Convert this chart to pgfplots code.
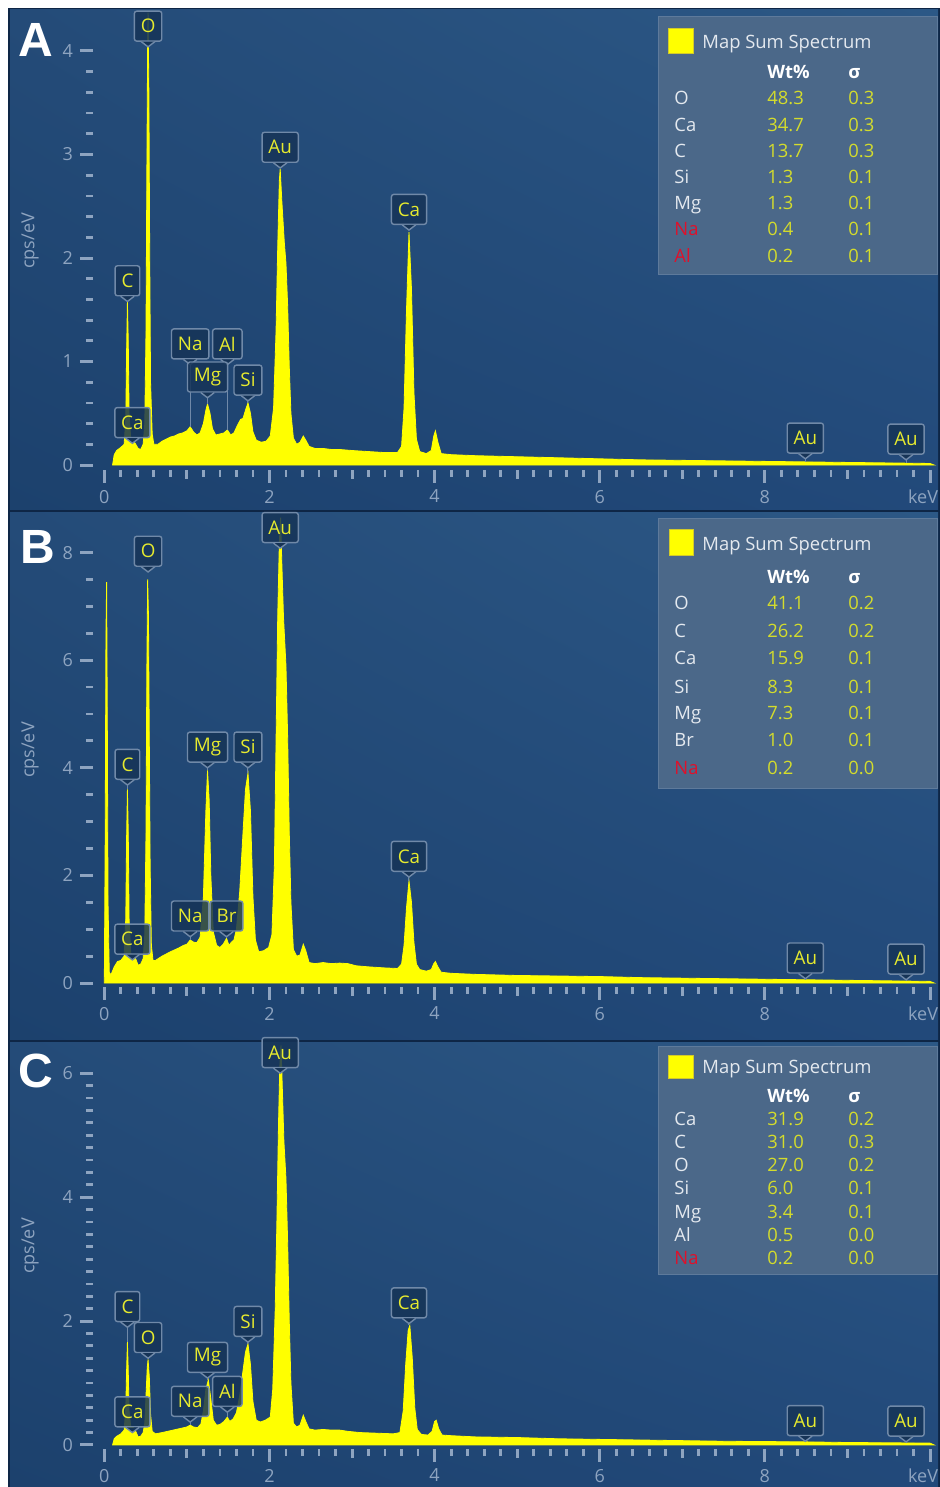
\documentclass[border=0pt]{standalone}
\usepackage{pgfplots}
\pgfplotsset{compat=1.18}
\usetikzlibrary{shadings}
\usepackage{fontspec}
\setmainfont{Open Sans}
\newfontfamily\letfont{Liberation Sans}

\definecolor{bgdark}{HTML}{0E2646}
\definecolor{bgUL}{HTML}{244B78}
\definecolor{bgUR}{HTML}{2C5886}
\definecolor{bgLL}{HTML}{1C416D}
\definecolor{bgLR}{HTML}{22497A}
\definecolor{lblfill}{HTML}{163457}
\definecolor{lblborder}{HTML}{7089A8}
\definecolor{lbltext}{HTML}{E6EA2E}
\definecolor{tickcol}{HTML}{8EA4C0}
\definecolor{specyellow}{HTML}{FFFF00}
\definecolor{legfill}{HTML}{4B6889}
\definecolor{legborder}{HTML}{5E7A9B}
\definecolor{legtext}{HTML}{E4E9EF}
\definecolor{legval}{HTML}{D4DC2C}
\definecolor{legred}{HTML}{E0102A}

\tikzset{
  lbl/.style={draw=lblborder, fill=lblfill, fill opacity=0.85, text opacity=1, line width=0.7pt,
    rounded corners=1.2pt, text=lbltext, font=\fontsize{9.4}{10}\selectfont,
    inner xsep=3.2pt, inner ysep=0pt, minimum height=15pt, minimum width=12pt},
  lbltri/.style={fill=lblfill, draw=lblborder, line width=0.7pt},
  lblline/.style={draw=lblborder, line width=0.5pt},
  legtxt/.style={font=\fontsize{9.2}{11}\selectfont, inner sep=0pt, anchor=base west},
  spec/.style={draw=specyellow, fill=specyellow, line width=0.4pt, mark=none},
}

% element label: x, tip y, target y, text
\newcommand{\elab}[4]{%
  \draw[lblline] (axis cs:#1,#2) -- (axis cs:#1,#3);
  \node[lbl, anchor=south] at ([yshift=2.5pt]axis cs:#1,#2) {#4};
  \filldraw[lbltri] ([xshift=-3.4pt,yshift=2.6pt]axis cs:#1,#2) -- (axis cs:#1,#2) -- ([xshift=3.4pt,yshift=2.6pt]axis cs:#1,#2);
}
% legend row: baseline Y, element, value, sigma, element colour
\newcommand{\legrow}[5]{%
  \node[legtxt, text=#5] at (674,#1) {#2};
  \node[legtxt, text=legval] at (767,#1) {#3};
  \node[legtxt, text=legval] at (848,#1) {#4};
}

\pgfplotsset{
  edsaxis/.style={
    scale only axis, width=423pt, anchor=south west,
    xmin=-0.137, xmax=10.109,
    axis x line*=bottom, axis y line*=left,
    axis line style={draw=none},
    tick align=outside,
    xtick={0,2,4,6,8,10}, xticklabels={0,2,4,6,8,\makebox[8pt][r]{keV}},
    minor x tick num=9,
    extra x ticks={1,3,5,7,9}, extra x tick labels={},
    extra x tick style={major tick length=4.5pt},
    major tick length=6.5pt, minor tick length=3.5pt,
    tick style={draw=tickcol, line width=1.5pt},
    minor tick style={line width=1.4pt},
    tick label style={text=tickcol, font=\fontsize{9}{10}\selectfont},
    /pgf/number format/assume math mode=true,
    clip=false,
  }
}

\begin{document}
\begin{tikzpicture}[x=0.5pt,y=0.5pt]
\useasboundingbox (0,0) rectangle (940,1487);
\fill[white] (0,0) rectangle (940,1487);
\fill[bgdark] (8,0) rectangle (940,1479);
\shade[upper left=bgUL, upper right=bgUR, lower left=bgLL, lower right=bgLR] (10,977) rectangle (938,1477);
\shade[upper left=bgUL, upper right=bgUR, lower left=bgLL, lower right=bgLR] (10,447) rectangle (938,974);
\shade[upper left=bgUL, upper right=bgUR, lower left=bgLL, lower right=bgLR] (10,0) rectangle (938,444);

% ---------------- Panel A ----------------
\begin{axis}[edsaxis, at={(46.5pt,508.5pt)}, height=229pt,
  ymin=-0.048, ymax=4.377, ytick={0,1,2,3,4}, minor y tick num=4]
\addplot[spec] coordinates {
(0.10,0) (0.12,0.10) (0.15,0.14) (0.20,0.17) (0.24,0.20) (0.26,0.45) (0.27,1.1) (0.28,1.58)
(0.29,1.2) (0.30,0.5) (0.32,0.26) (0.35,0.24) (0.38,0.20) (0.41,0.16) (0.44,0.15) (0.47,0.20)
(0.49,0.40) (0.505,1.3) (0.515,2.8) (0.525,4.1) (0.53,4.37) (0.54,3.6) (0.55,2.0) (0.56,0.8)
(0.58,0.30) (0.60,0.20) (0.65,0.20) (0.70,0.23) (0.75,0.25) (0.80,0.27) (0.85,0.28) (0.90,0.30)
(0.95,0.31) (1.00,0.33) (1.04,0.37) (1.08,0.32) (1.12,0.29) (1.16,0.31) (1.20,0.40) (1.23,0.53)
(1.25,0.59) (1.28,0.50) (1.31,0.35) (1.35,0.29) (1.40,0.30) (1.45,0.31) (1.49,0.34) (1.53,0.29)
(1.57,0.31) (1.61,0.38) (1.65,0.44) (1.68,0.45) (1.71,0.53) (1.74,0.60) (1.77,0.50) (1.80,0.32)
(1.84,0.24) (1.90,0.22) (1.96,0.23) (2.01,0.28) (2.05,0.55) (2.08,1.3) (2.10,2.1) (2.12,2.75)
(2.13,2.86) (2.15,2.55) (2.18,2.15) (2.20,1.95) (2.22,1.55) (2.24,0.95) (2.26,0.50) (2.29,0.26)
(2.33,0.20) (2.37,0.22) (2.41,0.28) (2.44,0.24) (2.48,0.18) (2.55,0.16) (2.65,0.16) (2.75,0.15)
(2.85,0.15) (3.00,0.14) (3.20,0.13) (3.40,0.12) (3.55,0.12) (3.60,0.18) (3.63,0.55) (3.66,1.5)
(3.69,2.25) (3.72,1.7) (3.75,0.7) (3.78,0.25) (3.82,0.13) (3.90,0.11) (3.96,0.14) (3.99,0.28)
(4.01,0.33) (4.04,0.22) (4.08,0.11) (4.20,0.10) (4.50,0.09) (5.00,0.08) (5.50,0.07) (6.00,0.06)
(6.50,0.05) (7.00,0.045) (7.50,0.04) (8.00,0.035) (8.50,0.03) (9.00,0.025) (9.50,0.02) (10.00,0.015) (10.05,0)
} \closedcycle;
\elab{0.53}{4.04}{4.04}{O}
\elab{0.28}{1.58}{1.58}{C}
\elab{2.13}{2.87}{2.87}{Au}
\elab{3.69}{2.27}{2.27}{Ca}
\elab{1.04}{0.97}{0.37}{Na}
\elab{1.49}{0.97}{0.34}{Al}
\elab{1.25}{0.65}{0.59}{Mg}
\elab{1.74}{0.62}{0.60}{Si}
\elab{0.34}{0.21}{0.21}{Ca}
\elab{8.49}{0.06}{0.03}{Au}
\elab{9.71}{0.05}{0.02}{Au}
\end{axis}

% ---------------- Panel B ----------------
\begin{axis}[edsaxis, at={(46.5pt,250pt)}, height=236pt,
  ymin=-0.074, ymax=8.699, ytick={0,2,4,6,8}, minor y tick num=3]
\addplot[spec] coordinates {
(0.00,0) (0.01,2.5) (0.02,6.5) (0.028,7.45) (0.036,5.0) (0.045,1.5) (0.06,0.2) (0.08,0.15)
(0.12,0.30) (0.16,0.40) (0.20,0.42) (0.24,0.50) (0.26,1.2) (0.27,2.7) (0.28,3.6) (0.29,2.8)
(0.30,1.2) (0.32,0.55) (0.35,0.52) (0.38,0.45) (0.41,0.33) (0.44,0.35) (0.47,0.45) (0.49,0.9)
(0.505,2.8) (0.515,5.8) (0.525,7.5) (0.535,6.8) (0.545,4.5) (0.555,2.2) (0.57,0.7) (0.59,0.42)
(0.62,0.42) (0.70,0.50) (0.80,0.58) (0.90,0.65) (0.96,0.70) (1.00,0.72) (1.04,0.80) (1.08,0.76)
(1.12,0.75) (1.16,0.85) (1.20,1.6) (1.23,3.2) (1.25,3.95) (1.27,3.4) (1.29,2.0) (1.32,0.95)
(1.36,0.70) (1.40,0.66) (1.44,0.72) (1.48,0.83) (1.51,0.70) (1.54,0.76) (1.57,0.80) (1.60,1.0)
(1.64,1.7) (1.68,2.8) (1.71,3.6) (1.74,3.9) (1.77,3.2) (1.80,1.6) (1.83,0.8) (1.87,0.58)
(1.93,0.60) (1.99,0.66) (2.03,0.90) (2.06,2.2) (2.08,4.5) (2.10,6.8) (2.12,8.2) (2.135,8.65)
(2.15,7.8) (2.17,6.8) (2.20,5.9) (2.22,4.6) (2.24,2.8) (2.26,1.5) (2.29,0.62) (2.33,0.50)
(2.37,0.52) (2.41,0.72) (2.44,0.60) (2.48,0.38) (2.55,0.36) (2.65,0.38) (2.75,0.36) (2.85,0.37)
(2.95,0.36) (3.05,0.32) (3.20,0.30) (3.40,0.28) (3.55,0.27) (3.60,0.35) (3.63,0.7) (3.66,1.4)
(3.69,1.9) (3.72,1.5) (3.75,0.75) (3.78,0.35) (3.82,0.25) (3.90,0.22) (3.96,0.25) (3.99,0.36)
(4.01,0.40) (4.04,0.30) (4.08,0.20) (4.20,0.18) (4.50,0.16) (5.00,0.14) (5.50,0.13) (6.00,0.12)
(6.50,0.10) (7.00,0.09) (7.50,0.08) (8.00,0.07) (8.50,0.06) (9.00,0.05) (9.50,0.04) (10.00,0.03) (10.05,0)
} \closedcycle;
\elab{0.53}{7.64}{7.64}{O}
\elab{2.13}{8.08}{8.08}{Au}
\elab{0.28}{3.68}{3.60}{C}
\elab{1.25}{4.00}{3.95}{Mg}
\elab{1.74}{4.00}{3.90}{Si}
\elab{3.69}{1.97}{1.90}{Ca}
\elab{1.04}{0.86}{0.80}{Na}
\elab{1.48}{0.86}{0.83}{Br}
\elab{0.34}{0.43}{0.43}{Ca}
\elab{8.49}{0.08}{0.06}{Au}
\elab{9.71}{0.06}{0.04}{Au}
\end{axis}

% ---------------- Panel C ----------------
\begin{axis}[edsaxis, at={(46.5pt,19pt)}, height=203pt,
  ymin=-0.065, ymax=6.489, ytick={0,2,4,6}, minor y tick num=9]
\addplot[spec] coordinates {
(0.10,0) (0.12,0.10) (0.15,0.14) (0.20,0.18) (0.24,0.24) (0.26,0.6) (0.27,1.2) (0.28,1.66)
(0.29,1.2) (0.30,0.55) (0.32,0.30) (0.35,0.28) (0.38,0.22) (0.41,0.13) (0.44,0.14) (0.47,0.20)
(0.49,0.35) (0.505,0.8) (0.52,1.25) (0.53,1.38) (0.545,1.1) (0.56,0.5) (0.58,0.22) (0.62,0.18)
(0.70,0.20) (0.80,0.23) (0.90,0.26) (1.00,0.29) (1.04,0.32) (1.08,0.29) (1.13,0.28) (1.17,0.34)
(1.20,0.55) (1.23,0.90) (1.26,1.05) (1.29,0.75) (1.32,0.40) (1.36,0.32) (1.40,0.33) (1.45,0.38)
(1.49,0.45) (1.52,0.38) (1.56,0.42) (1.60,0.52) (1.64,0.80) (1.68,1.2) (1.71,1.5) (1.74,1.63)
(1.77,1.3) (1.80,0.70) (1.84,0.40) (1.89,0.37) (1.95,0.40) (2.01,0.45) (2.04,0.90) (2.07,2.2)
(2.09,3.6) (2.11,5.2) (2.125,6.1) (2.14,6.45) (2.155,5.8) (2.175,4.9) (2.20,4.3) (2.22,3.3)
(2.24,2.0) (2.26,1.0) (2.29,0.35) (2.33,0.29) (2.37,0.32) (2.41,0.48) (2.44,0.38) (2.48,0.26)
(2.55,0.24) (2.65,0.25) (2.75,0.24) (2.85,0.24) (2.95,0.22) (3.10,0.20) (3.30,0.19) (3.50,0.18)
(3.58,0.20) (3.62,0.55) (3.65,1.3) (3.68,1.85) (3.70,1.93) (3.73,1.4) (3.76,0.6) (3.79,0.25)
(3.84,0.17) (3.92,0.16) (3.97,0.22) (4.00,0.38) (4.02,0.40) (4.05,0.26) (4.09,0.16) (4.20,0.15)
(4.50,0.13) (5.00,0.12) (5.50,0.10) (6.00,0.09) (6.50,0.08) (7.00,0.07) (7.50,0.06) (8.00,0.055)
(8.50,0.05) (9.00,0.04) (9.50,0.035) (10.00,0.03) (10.05,0)
} \closedcycle;
\elab{2.13}{6.00}{6.00}{Au}
\elab{0.28}{1.90}{1.66}{C}
\elab{0.53}{1.40}{1.38}{O}
\elab{1.25}{1.08}{1.05}{Mg}
\elab{1.74}{1.66}{1.63}{Si}
\elab{1.04}{0.37}{0.32}{Na}
\elab{1.49}{0.53}{0.45}{Al}
\elab{3.69}{1.96}{1.93}{Ca}
\elab{0.34}{0.20}{0.20}{Ca}
\elab{8.49}{0.06}{0.05}{Au}
\elab{9.71}{0.05}{0.04}{Au}
\end{axis}

% y labels
\node[rotate=90, text=tickcol, font=\fontsize{9}{10}\selectfont] at (30,1246) {cps/eV};
\node[rotate=90, text=tickcol, font=\fontsize{9}{10}\selectfont] at (30,737) {cps/eV};
\node[rotate=90, text=tickcol, font=\fontsize{9}{10}\selectfont] at (30,241) {cps/eV};

% panel letters
\node[text=white, font=\letfont\bfseries\fontsize{24}{24}\selectfont] at (36,1447) {A};
\node[text=white, font=\letfont\bfseries\fontsize{24}{24}\selectfont] at (38,940) {B};
\node[text=white, font=\letfont\bfseries\fontsize{24}{24}\selectfont] at (36,416) {C};

% ---------------- Legend A ----------------
\fill[legfill, draw=legborder, line width=0.5pt] (658,1212) rectangle (937,1470);
\fill[specyellow, draw=yellow!80!black, line width=0.4pt] (668,1434) rectangle (693,1459);
\node[legtxt, text=legtext] at (702,1438) {Map Sum Spectrum};
\node[legtxt, text=white, font=\fontsize{9.2}{11}\selectfont\bfseries] at (767,1408) {Wt\%};
\node[legtxt, text=white, font=\fontsize{9.2}{11}\selectfont\bfseries] at (848,1408) {σ};
\legrow{1382}{O}{48.3}{0.3}{legtext}
\legrow{1355}{Ca}{34.7}{0.3}{legtext}
\legrow{1329}{C}{13.7}{0.3}{legtext}
\legrow{1303}{Si}{1.3}{0.1}{legtext}
\legrow{1277}{Mg}{1.3}{0.1}{legtext}
\legrow{1251}{Na}{0.4}{0.1}{legred}
\legrow{1224}{Al}{0.2}{0.1}{legred}

% ---------------- Legend B ----------------
\fill[legfill, draw=legborder, line width=0.5pt] (658,698) rectangle (937,968);
\fill[specyellow, draw=yellow!80!black, line width=0.4pt] (669,932) rectangle (693,958);
\node[legtxt, text=legtext] at (702,936) {Map Sum Spectrum};
\node[legtxt, text=white, font=\fontsize{9.2}{11}\selectfont\bfseries] at (767,903) {Wt\%};
\node[legtxt, text=white, font=\fontsize{9.2}{11}\selectfont\bfseries] at (848,903) {σ};
\legrow{877}{O}{41.1}{0.2}{legtext}
\legrow{849}{C}{26.2}{0.2}{legtext}
\legrow{822}{Ca}{15.9}{0.1}{legtext}
\legrow{793}{Si}{8.3}{0.1}{legtext}
\legrow{767}{Mg}{7.3}{0.1}{legtext}
\legrow{740}{Br}{1.0}{0.1}{legtext}
\legrow{712}{Na}{0.2}{0.0}{legred}

% ---------------- Legend C ----------------
\fill[legfill, draw=legborder, line width=0.5pt] (658,212) rectangle (937,440);
\fill[specyellow, draw=yellow!80!black, line width=0.4pt] (668,409) rectangle (693,432);
\node[legtxt, text=legtext] at (702,413) {Map Sum Spectrum};
\node[legtxt, text=white, font=\fontsize{9.2}{11}\selectfont\bfseries] at (767,384) {Wt\%};
\node[legtxt, text=white, font=\fontsize{9.2}{11}\selectfont\bfseries] at (848,384) {σ};
\legrow{361}{Ca}{31.9}{0.2}{legtext}
\legrow{338}{C}{31.0}{0.3}{legtext}
\legrow{315}{O}{27.0}{0.2}{legtext}
\legrow{292}{Si}{6.0}{0.1}{legtext}
\legrow{268}{Mg}{3.4}{0.1}{legtext}
\legrow{245}{Al}{0.5}{0.0}{legtext}
\legrow{222}{Na}{0.2}{0.0}{legred}
\end{tikzpicture}
\end{document}
